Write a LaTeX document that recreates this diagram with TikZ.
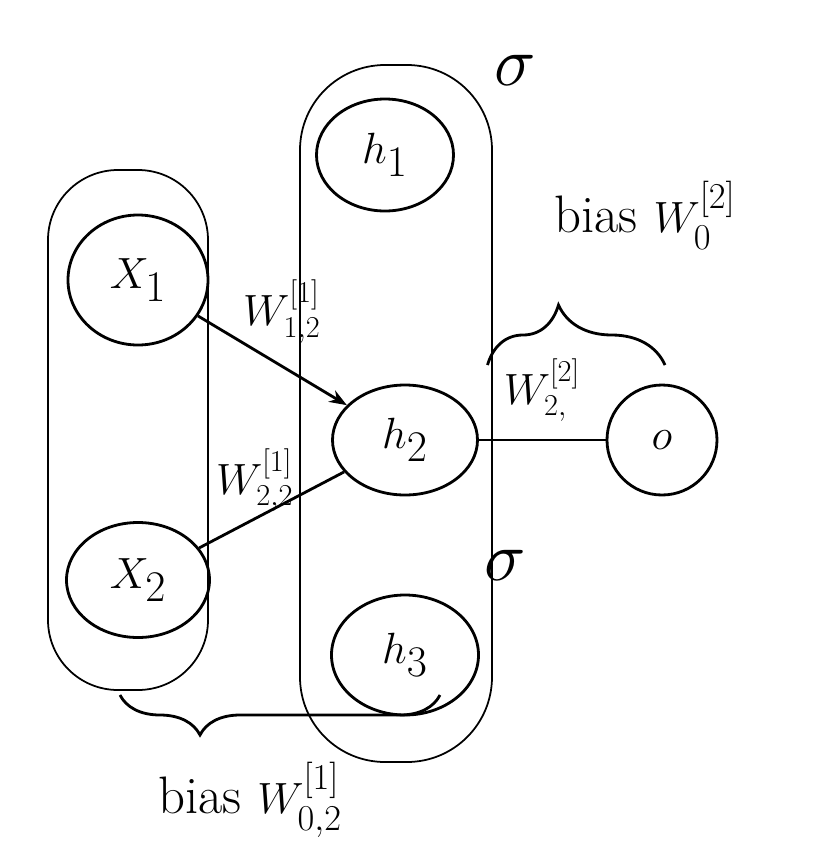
\documentclass[tikz,border=0pt]{standalone}
\usepackage{amsmath}
\usepackage{amssymb}
\usepackage{tikz}
\usetikzlibrary{positioning,shapes.geometric,decorations.pathreplacing,arrows.meta}

\begin{document}
\begin{tikzpicture}[on grid,
   neuron/.style={ellipse,draw,line width=1.6pt,inner sep=0pt,font=\fontsize{36}{40}\selectfont},
   layerbox/.style={draw,line width=1pt},
   wlabel/.style={font=\fontsize{26}{30}\selectfont,inner sep=1pt},
   biaslabel/.style={font=\fontsize{30}{34}\selectfont,inner sep=1pt},
   actlabel/.style={font=\fontsize{26}{30}\selectfont,inner sep=1pt,scale=1.6,transform shape},
   bracebig/.style={decorate,line width=1.6pt}]
   \useasboundingbox (0,0) rectangle (16.24,-17.28);
   % layers
   \draw[layerbox,rounded corners=1.4cm] (0.96,-3.4) rectangle (4.16,-13.8);
   \draw[layerbox,rounded corners=1.7cm] (6.0,-1.3) rectangle (9.84,-15.24);
   % neurons
   \node[neuron,minimum width=2.8cm,minimum height=2.6cm] (x1) at (2.76,-5.6) {$X_1$};
   \node[neuron,minimum width=2.86cm,minimum height=2.3cm] (x2) [below=6cm of x1] {$X_2$};
   \node[neuron,minimum width=2.9cm,minimum height=2.2cm] (h2) at (8.1,-8.8) {$h_2$};
   \node[neuron,minimum width=2.74cm,minimum height=2.24cm] (h1) [above left=5.7cm and 0.4cm of h2] {$h_1$};
   \node[neuron,minimum width=2.94cm,minimum height=2.4cm] (h3) [below=4.3cm of h2] {$h_3$};
   \node[neuron,minimum width=2.2cm,minimum height=2.2cm] (o) [right=5.14cm of h2] {$o$};
   \path[line width=1.6pt]
   (x1) edge[-{Stealth[length=10pt]}] node[wlabel,pos=0.45,anchor=south west,xshift=-0.5cm,yshift=0.2cm] {$W_{1,2}^{[1]}$} (h2)
   (x2) edge node[wlabel,pos=0.5,anchor=south east,xshift=0.5cm,yshift=-0.1cm] {$W_{2,2}^{[1]}$} (h2)
   (h2) edge node[wlabel,pos=0.3,above,xshift=0.5cm,yshift=0.3cm] {$W_{2,}^{[2]}$} (o);
   % activations
   \node[actlabel] (sigmah) at (10.3,-1.4) {$\sigma$};
   \node[actlabel] (sigmao) at (10.1,-11.3) {$\sigma$};
   % biases
   \draw[bracebig,decoration={brace,amplitude=1.2cm,aspect=0.4}] (9.75,-7.3) -- (13.3,-7.3);
   \draw[bracebig,decoration={brace,mirror,amplitude=0.8cm,aspect=0.25}] (2.4,-13.9) -- (8.8,-13.9);
   \node[biaslabel] (biasout) at (12.9,-4.3) {bias $W_0^{[2]}$};
   \node[biaslabel] (biashid) at (5.0,-16.0) {bias $W_{0,2}^{[1]}$};
\end{tikzpicture}
\end{document}
